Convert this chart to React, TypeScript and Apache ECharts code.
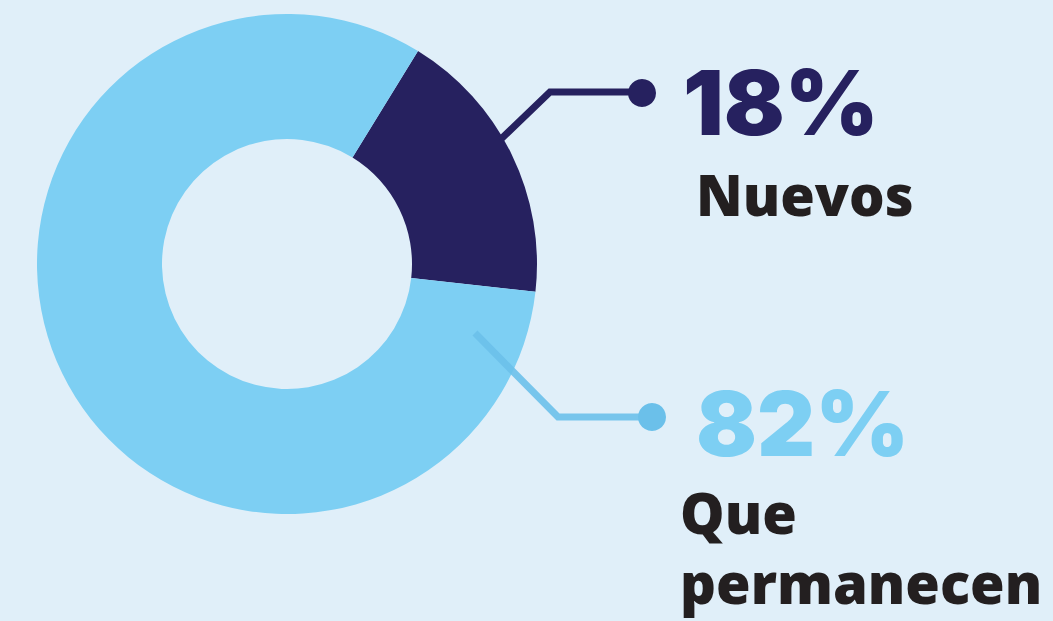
import React, { useEffect, useRef } from "react";
import * as echarts from "echarts";

const categories = ["Nuevos", "Que permanecen"];
const values = [18, 82];
const labelLines = [["Nuevos"], ["Que", "permanecen"]];

const BG = "#e0eff9";
const DARK = "#26215f";
const LIGHT = "#7dcff3";
const LIGHT_LINE = "#6bc0ea";
const TEXT = "#231f20";

export default function App() {
  const ref = useRef<HTMLDivElement>(null);
  useEffect(() => {
    document.body.style.margin = "0";
    const chart = echarts.init(ref.current!, undefined, { renderer: "svg" });
    const cx = 287, cy = 264;
    const numFont = "900 90px Inter, 'Noto Sans', sans-serif";
    const wordFont = "800 56px 'Open Sans', 'Noto Sans', sans-serif";
    chart.setOption({
      animation: false,
      backgroundColor: BG,
      series: [
        {
          type: "pie",
          center: [cx, cy],
          radius: [125, 250],
          startAngle: 58.4,
          clockwise: true,
          label: { show: false },
          labelLine: { show: false },
          emphasis: { disabled: true },
          itemStyle: { borderWidth: 0 },
          data: categories.map((c, i) => ({
            name: c,
            value: values[i],
            itemStyle: { color: i === 0 ? DARK : LIGHT },
          })),
        },
      ],
      graphic: [
        {
          type: "polyline",
          shape: { points: [[500, 140], [550, 92], [642, 92]] },
          style: { stroke: DARK, lineWidth: 7, fill: null },
          z: 10,
        },
        { type: "circle", shape: { cx: 642, cy: 93, r: 14 }, style: { fill: DARK }, z: 10 },
        {
          type: "polyline",
          shape: { points: [[475, 333], [558, 417], [650, 417]] },
          style: { stroke: LIGHT_LINE, lineWidth: 7, fill: null, opacity: 0.9 },
          z: 10,
        },
        { type: "circle", shape: { cx: 652, cy: 417, r: 14 }, style: { fill: LIGHT_LINE }, z: 10 },
        {
          type: "text",
          style: { text: `${values[0]}%`, x: 683, y: 102, font: numFont, fill: DARK, verticalAlign: "middle" },
          z: 10,
        },
        {
          type: "text",
          style: { text: labelLines[0][0], x: 696, y: 194, font: wordFont, fill: TEXT, verticalAlign: "middle" },
          z: 10,
        },
        {
          type: "text",
          style: { text: `${values[1]}%`, x: 696, y: 423, font: numFont, fill: LIGHT, verticalAlign: "middle" },
          z: 10,
        },
        {
          type: "text",
          style: { text: labelLines[1][0], x: 680, y: 512, font: wordFont, fill: TEXT, verticalAlign: "middle" },
          z: 10,
        },
        {
          type: "text",
          style: { text: labelLines[1][1], x: 680, y: 582, font: wordFont, fill: TEXT, verticalAlign: "middle" },
          z: 10,
        },
      ],
    });
    return () => chart.dispose();
  }, []);
  return (
    <div
      ref={ref}
      style={{ position: "absolute", left: 0, top: 0, width: 1053, height: 621 }}
    />
  );
}
